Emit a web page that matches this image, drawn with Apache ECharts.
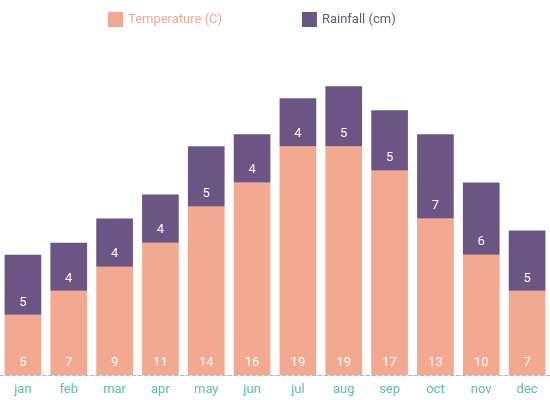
<!DOCTYPE html><html><head><meta charset="utf-8">
<script src="https://cdn.jsdelivr.net/npm/echarts@6/dist/echarts.min.js"></script>
<style>html,body{margin:0;padding:0}#c{width:550px;height:400px}</style></head><body><div id="c"></div>
<script>
const months=['jan','feb','mar','apr','may','jun','jul','aug','sep','oct','nov','dec'];
const temperature=[5,7,9,11,14,16,19,19,17,13,10,7];
const rainfall=[5,4,4,4,5,4,4,5,5,7,6,5];
const chart=echarts.init(document.getElementById('c'));
const lbl={show:true,position:'insideBottom',distance:6,color:'#fff',fontSize:13,fontFamily:'Roboto'};
chart.setOption({
 animation:false,
 legend:{top:7,left:103,itemGap:80,itemWidth:15,itemHeight:15,icon:'rect',
  textStyle:{fontFamily:'Roboto',fontSize:13},
  data:[{name:'Temperature (C)',textStyle:{color:'#F2A98F'}},{name:'Rainfall (cm)',textStyle:{color:'#6B5584'}}]},
 grid:{left:-8,right:-2,top:14,bottom:25},
 xAxis:{type:'category',data:months,axisTick:{show:false},
  axisLine:{lineStyle:{color:'#bbb',type:'dashed'}},
  axisLabel:{color:'#5BC0B0',fontFamily:'Roboto',fontSize:13,margin:8}},
 yAxis:{type:'value',min:0,max:30,show:false,splitLine:{show:false}},
 series:[
  {name:'Temperature (C)',type:'bar',stack:'a',data:temperature,barCategoryGap:'20%',itemStyle:{color:'#F2A98F'},label:lbl},
  {name:'Rainfall (cm)',type:'bar',stack:'a',data:rainfall,itemStyle:{color:'#6B5584'},label:{...lbl,distance:6}}
 ]
});
</script></body></html>
